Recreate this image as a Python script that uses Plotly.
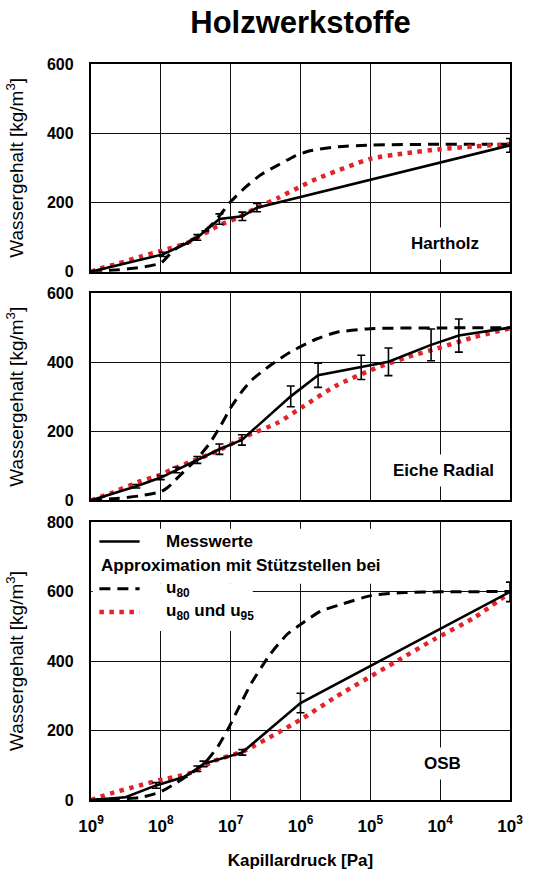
import plotly.graph_objects as go

# Kapillardruck [Pa] / Wassergehalt [kg/m3]

# --- Hartholz ---
hart_mess_p = [1.0e9, 9.3e7, 4.5e7, 3.0e7, 2.3e7, 1.45e7, 6.8e6, 4.2e6, 1.0e3]
hart_mess_w = [0, 50, 80, 99, 118, 152, 160, 185, 365]
hart_mess_err = [None, 6, None, 8, None, 15, 12, 12, 20]

hart_u80_p = [1.0e9, 5.0e8, 2.0e8, 1.0e8, 7.9e7, 5.9e7, 4.5e7, 3.0e7, 2.0e7, 1.4e7,
              1.0e7, 6.3e6, 3.7e6, 2.1e6, 1.26e6, 7.8e5, 3.2e5, 1.0e5, 1.0e4, 1.0e3]
hart_u80_w = [0, 4, 12, 25, 45, 68, 82, 102, 130, 165,
              202, 242, 280, 308, 332, 348, 360, 366, 368, 368]

hart_u95_p = [1.0e9, 7.4e8, 4.0e8, 2.0e8, 9.5e7, 4.0e7, 1.5e7, 7.9e6, 4.2e6, 2.1e6,
              1.0e6, 5.9e5, 1.0e5, 3.2e4, 1.0e4, 3.2e3, 1.0e3]
hart_u95_w = [0, 9, 24, 43, 61, 85, 133, 156, 185, 213,
              246, 268, 326, 342, 354, 362, 368]

# --- Eiche Radial ---
eiche_mess_p = [1.0e9, 2.24e8, 1.0e8, 6.0e7, 3.0e7, 1.45e7, 6.9e6, 1.38e6, 5.6e5,
                1.35e5, 5.5e4, 1.35e4, 5.4e3, 1.0e3]
eiche_mess_w = [0, 41, 66, 88, 117, 148, 175, 301, 362, 385, 401, 450, 477, 500]
eiche_mess_err = [None, 5, 6, 8, 10, 15, 15, 30, 35, 35, 40, 46, 48, None]

eiche_u80_p = [1.0e9, 4.0e8, 2.0e8, 1.0e8, 7.9e7, 6.2e7, 2.9e7, 2.0e7, 1.4e7, 1.0e7,
               7.1e6, 5.0e6, 2.7e6, 1.4e6, 5.9e5, 3.1e5, 1.0e5, 1.0e4, 1.0e3]
eiche_u80_w = [0, 6, 13, 25, 38, 59, 125, 165, 215, 268,
               312, 348, 391, 429, 467, 486, 497, 499, 500]

eiche_u95_p = [1.0e9, 5.0e8, 2.0e8, 1.0e8, 6.9e7, 3.2e7, 1.5e7, 5.8e6, 2.1e6, 9.1e5,
               3.1e5, 8.5e4, 2.9e4, 9.8e3, 3.3e3, 1.0e3]
eiche_u95_w = [0, 22, 55, 74, 90, 117, 144, 187, 225, 272,
               332, 382, 415, 443, 472, 498]

# --- OSB ---
osb_mess_p = [1.0e9, 3.2e8, 1.17e8, 4.7e7, 3.0e7, 2.45e7, 6.8e6, 1.0e6, 1.0e3]
osb_mess_w = [0, 8, 42, 66, 90, 104, 137, 279, 599]
osb_mess_err = [None, None, 8, None, 8, 8, 8, 28, 28]

osb_u80_p = [1.0e9, 4.0e8, 2.0e8, 1.05e8, 6.9e7, 3.5e7, 2.3e7, 1.5e7, 1.1e7, 7.9e6,
             5.1e6, 2.7e6, 1.55e6, 1.0e6, 5.2e5, 2.9e5, 9.5e4, 3.2e4, 1.0e4, 1.0e3]
osb_u80_w = [0, 3, 7, 22, 42, 80, 109, 156, 203, 260,
             335, 420, 477, 505, 543, 560, 589, 597, 599, 600]

osb_u95_p = [1.0e9, 5.0e8, 2.0e8, 1.05e8, 4.0e7, 1.7e7, 6.3e6, 2.1e6, 1.0e6, 3.1e5,
             4.4e4, 1.2e4, 3.3e3, 1.0e3]
osb_u95_w = [0, 20, 42, 57, 76, 113, 142, 194, 231, 297,
             397, 463, 524, 597]

panel_names = ["Hartholz", "Eiche Radial", "OSB"]
legend_texts = ["Messwerte", "Approximation mit Stützstellen bei",
                "u<sub>80</sub>", "u<sub>80</sub> und u<sub>95</sub>"]
x_ticks = [1e9, 1e8, 1e7, 1e6, 1e5, 1e4, 1e3]
x_ticktext = ["10<sup>9</sup>", "10<sup>8</sup>", "10<sup>7</sup>", "10<sup>6</sup>",
              "10<sup>5</sup>", "10<sup>4</sup>", "10<sup>3</sup>"]

FONT = "Liberation Sans, Arial, sans-serif"
RED = "#e3232a"
MESS_LINE = dict(color="black", width=2.6)
U80_LINE = dict(color="black", width=3, dash="11px,7px")
U95_LINE = dict(color=RED, width=4.5, dash="4.5px,5.5px")

panels = [
    (hart_mess_p, hart_mess_w, hart_mess_err, hart_u80_p, hart_u80_w, hart_u95_p, hart_u95_w),
    (eiche_mess_p, eiche_mess_w, eiche_mess_err, eiche_u80_p, eiche_u80_w, eiche_u95_p, eiche_u95_w),
    (osb_mess_p, osb_mess_w, osb_mess_err, osb_u80_p, osb_u80_w, osb_u95_p, osb_u95_w),
]

fig = go.Figure()
for i, (mp, mw, me, ap, aw, bp, bw) in enumerate(panels):
    xa = "x" if i == 0 else f"x{i + 1}"
    ya = "y" if i == 0 else f"y{i + 1}"
    fig.add_trace(go.Scatter(
        x=ap, y=aw, xaxis=xa, yaxis=ya, mode="lines",
        line=dict(U80_LINE, shape="spline", smoothing=0.6),
        name="u80", showlegend=False))
    fig.add_trace(go.Scatter(
        x=bp, y=bw, xaxis=xa, yaxis=ya, mode="lines",
        line=dict(U95_LINE, shape="spline", smoothing=0.6),
        name="u80 und u95", showlegend=False))
    fig.add_trace(go.Scatter(
        x=mp, y=mw, xaxis=xa, yaxis=ya, mode="lines",
        line=MESS_LINE,
        error_y=dict(type="data", array=me, visible=True, color="black",
                     thickness=1.6, width=4),
        name="Messwerte", showlegend=False))

# plot area: 91..517 px horizontally, 64..812 px vertically
domains = [[0.7178, 1.0], [0.4071, 0.6888], [0.0, 0.3777]]
y_ranges = [[0, 600], [0, 600], [0, 800]]
y_ticks = [[0, 200, 400, 600], [0, 200, 400, 600], [0, 200, 400, 600, 800]]

axis_common = dict(showline=True, mirror=True, linecolor="black", linewidth=2.3,
                   showgrid=True, gridcolor="#111111", gridwidth=1.3, ticks="",
                   zeroline=False)

layout = dict(
    width=535, height=879,
    margin=dict(l=91, r=18, t=64, b=67),
    paper_bgcolor="white", plot_bgcolor="white",
    font=dict(family=FONT, color="black"),
    showlegend=False,
    title=dict(text="Holzwerkstoffe", x=0.5, xref="paper", xanchor="center",
               y=1 - 22 / 879, yref="container", yanchor="middle",
               font=dict(size=31, family=FONT, color="black", weight="bold")),
)

for i in range(3):
    sx = "" if i == 0 else str(i + 1)
    xaxis = dict(axis_common, type="log", range=[9, 3], anchor="y" + sx,
                 tickvals=x_ticks, ticktext=x_ticktext,
                 showticklabels=(i == 2), ticklabelstandoff=9,
                 tickfont=dict(size=17, family=FONT, color="black", weight="bold"))
    if i > 0:
        xaxis["matches"] = "x"
    if i == 2:
        xaxis["title"] = dict(text="Kapillardruck [Pa]", standoff=20,
                              font=dict(size=17, family=FONT, color="black", weight="bold"))
    yaxis = dict(axis_common, range=y_ranges[i], domain=domains[i], anchor="x" + sx,
                 tickvals=y_ticks[i], ticklabelstandoff=12,
                 tickfont=dict(size=16, family=FONT, color="black", weight="bold"),
                 title=dict(text="Wassergehalt [kg/m<sup>3</sup>]", standoff=18,
                            font=dict(size=19, family=FONT, color="black")))
    layout["xaxis" + sx] = xaxis
    layout["yaxis" + sx] = yaxis

fig.update_layout(**layout)

# panel labels on a white box over the grid
label_pos = [(0.846, 0.135), (0.841, 0.145), (0.838, 0.13)]
for i, name in enumerate(panel_names):
    sx = "" if i == 0 else str(i + 1)
    lx, ly = label_pos[i]
    fig.add_annotation(x=lx, y=ly, xref=f"x{sx} domain", yref=f"y{sx} domain",
                       xanchor="center", yanchor="middle",
                       text=name, showarrow=False, bgcolor="white", borderpad=6,
                       font=dict(size=17, family=FONT, color="black", weight="bold"))

# legend of the OSB panel: white backing over the grid (an empty corner of the panel)
for x1, y0, y1 in [(0.686, 0.778, 0.976), (0.386, 0.608, 0.778)]:
    fig.add_shape(type="rect", xref="x3 domain", yref="y3 domain",
                  x0=0.004, x1=x1, y0=y0, y1=y1, layer="above",
                  fillcolor="white", line=dict(width=0))

row_y = [0.930, 0.845, 0.760, 0.676]
samples = [(0, MESS_LINE), (2, U80_LINE), (3, U95_LINE)]
for row, style in samples:
    fig.add_shape(type="line", xref="x3 domain", yref="y3 domain",
                  x0=0.02, x1=0.116, y0=row_y[row], y1=row_y[row], layer="above",
                  line=style)
text_x = [0.174, 0.0195, 0.174, 0.174]
for row, txt in enumerate(legend_texts):
    fig.add_annotation(x=text_x[row], y=row_y[row], xref="x3 domain", yref="y3 domain",
                       text=txt, showarrow=False, xanchor="left", yanchor="middle",
                       font=dict(size=17, family=FONT, color="black", weight="bold"))

fig.write_html("out.html")
